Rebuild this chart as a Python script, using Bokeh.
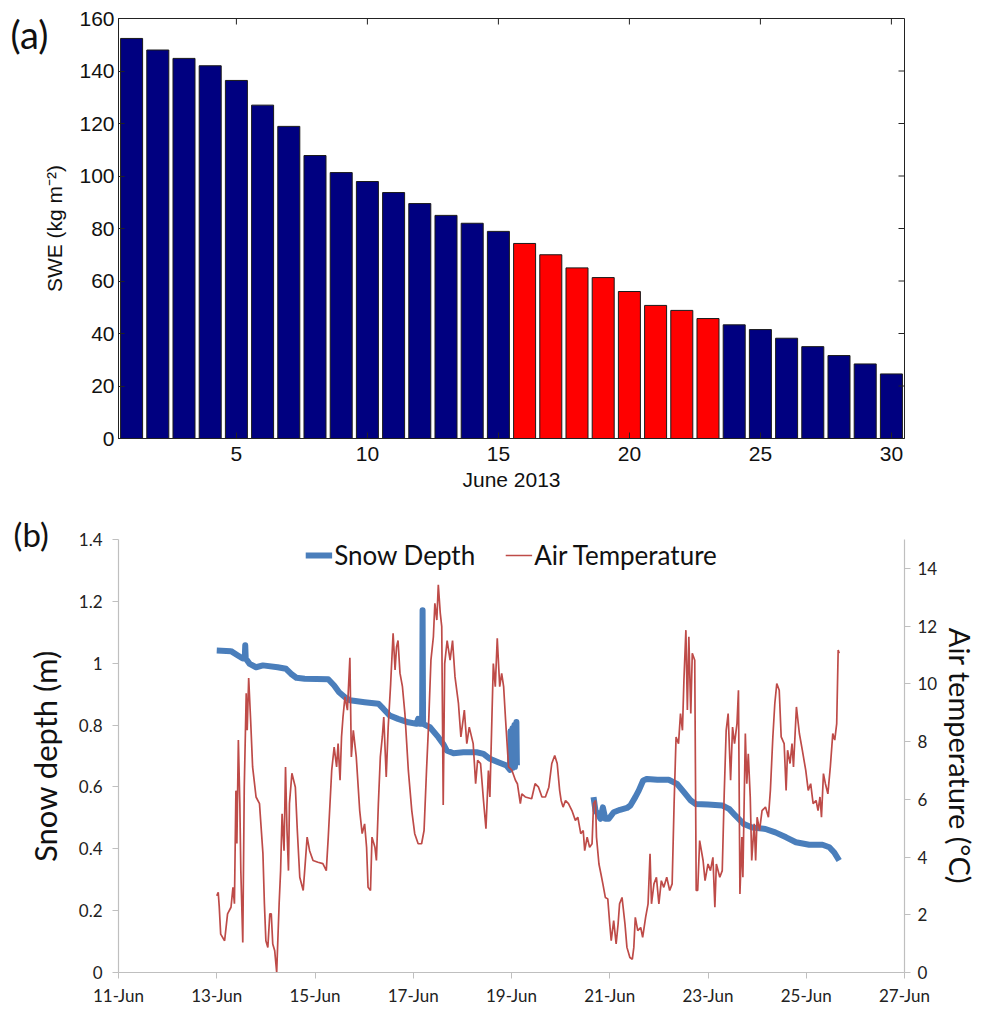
import math
from bokeh.plotting import figure
from bokeh.models import (ColumnDataSource, Range1d, LinearAxis, FixedTicker, Label,
                          Legend, LegendItem)
from bokeh.layouts import column
from bokeh.embed import file_html
from bokeh.resources import INLINE

# ---------------- data: panel (a) ----------------
june_days = list(range(1, 31))
swe_values = [152.4, 148.0, 144.8, 142.0, 136.4, 127.0, 118.9, 107.8, 101.3, 97.9,
              93.7, 89.5, 85.0, 82.0, 78.9, 74.3, 70.0, 65.0, 61.3, 56.0,
              50.7, 48.8, 45.7, 43.3, 41.5, 38.2, 35.0, 31.6, 28.4, 24.6]
highlight_days = [16, 17, 18, 19, 20, 21, 22, 23]
swe_xticks = [5, 10, 15, 20, 25, 30]
swe_yticks = [0, 20, 40, 60, 80, 100, 120, 140, 160]

# ---------------- data: panel (b) ----------------
temp_day = [13.00, 13.03, 13.05, 13.08, 13.16, 13.22, 13.29, 13.33, 13.36, 13.39, 13.41, 13.44, 13.47,
            13.49, 13.53, 13.56, 13.60, 13.62, 13.65, 13.69, 13.73, 13.80, 13.87, 13.94, 13.97, 14.00,
            14.04, 14.08, 14.11, 14.14, 14.18, 14.22, 14.27, 14.30, 14.33, 14.37, 14.40, 14.43, 14.46,
            14.48, 14.53, 14.60, 14.64, 14.69, 14.76, 14.79, 14.84, 14.89, 14.96, 15.06, 15.16, 15.23,
            15.27, 15.34, 15.39, 15.44, 15.47, 15.51, 15.54, 15.57, 15.61, 15.66, 15.71, 15.74, 15.78,
            15.84, 15.91, 15.96, 16.01, 16.05, 16.08, 16.13, 16.16, 16.22, 16.25, 16.29, 16.33, 16.37,
            16.40, 16.45, 16.49, 16.54, 16.59, 16.63, 16.66, 16.69, 16.73, 16.78, 16.83, 16.90, 16.97,
            17.03, 17.10, 17.17, 17.22, 17.27, 17.31, 17.36, 17.41, 17.44, 17.48, 17.51, 17.55, 17.58,
            17.61, 17.64, 17.69, 17.75, 17.80, 17.85, 17.92, 17.97, 18.04, 18.09, 18.14, 18.22, 18.27,
            18.31, 18.37, 18.43, 18.48, 18.53, 18.56, 18.60, 18.63, 18.67, 18.71, 18.76, 18.80, 18.84,
            18.88, 18.94, 19.01, 19.08, 19.12, 19.18, 19.21, 19.28, 19.41, 19.48, 19.55, 19.62, 19.69,
            19.76, 19.82, 19.88, 19.93, 19.98, 20.01, 20.05, 20.10, 20.16, 20.23, 20.30, 20.35, 20.41,
            20.46, 20.49, 20.54, 20.59, 20.64, 20.67, 20.71, 20.73, 20.78, 20.82, 20.86, 20.91, 20.96,
            21.00, 21.03, 21.08, 21.13, 21.17, 21.20, 21.25, 21.31, 21.35, 21.41, 21.46, 21.49, 21.52,
            21.57, 21.63, 21.67, 21.73, 21.78, 21.82, 21.85, 21.90, 21.95, 22.00, 22.05, 22.10, 22.16,
            22.22, 22.27, 22.31, 22.35, 22.40, 22.44, 22.48, 22.51, 22.55, 22.58, 22.61, 22.65, 22.68,
            22.73, 22.76, 22.79, 22.83, 22.90, 22.94, 23.00, 23.05, 23.10, 23.14, 23.17, 23.24, 23.29,
            23.33, 23.37, 23.41, 23.46, 23.50, 23.54, 23.59, 23.62, 23.65, 23.69, 23.71, 23.76, 23.79,
            23.82, 23.86, 23.89, 23.94, 23.97, 24.00, 24.05, 24.10, 24.17, 24.23, 24.27, 24.32, 24.36,
            24.40, 24.45, 24.49, 24.55, 24.59, 24.62, 24.67, 24.71, 24.74, 24.80, 24.86, 24.92, 24.99,
            25.04, 25.09, 25.14, 25.20, 25.24, 25.28, 25.31, 25.35, 25.39, 25.44, 25.49, 25.54, 25.58,
            25.62, 25.65, 25.67]
temp_val = [2.66, 2.78, 2.30, 1.33, 1.10, 2.03, 2.26, 2.95, 2.38, 6.30, 4.47, 8.05, 5.85,
            3.53, 1.04, 6.42, 9.67, 8.39, 10.20, 8.74, 7.12, 6.08, 5.85, 4.12, 2.38, 1.10,
            0.87, 2.03, 2.03, 0.99, 0.75, 0.00, 2.38, 3.53, 5.50, 4.22, 7.12, 4.92, 3.53,
            5.85, 6.90, 6.42, 4.92, 3.30, 2.84, 3.53, 4.69, 4.22, 3.88, 3.82, 3.77, 3.53,
            4.69, 7.00, 7.81, 7.12, 7.93, 6.66, 8.16, 8.85, 9.55, 9.09, 10.90, 7.47, 8.39,
            7.47, 5.61, 4.81, 5.15, 4.34, 2.95, 2.84, 4.69, 4.34, 3.88, 5.85, 7.47, 8.16,
            8.85, 6.77, 8.50, 10.00, 11.75, 10.48, 11.28, 11.50, 10.37, 9.90, 8.97, 7.00, 5.61,
            4.81, 4.46, 4.46, 4.92, 7.00, 8.50, 10.82, 11.63, 12.79, 12.21, 13.43, 12.45, 11.98,
            5.80, 10.70, 11.50, 10.82, 11.50, 10.24, 9.32, 8.16, 9.09, 7.93, 8.50, 7.93, 6.54,
            7.35, 7.24, 5.96, 4.98, 7.00, 6.08, 8.74, 10.70, 9.90, 11.58, 9.90, 10.36, 9.90,
            8.74, 7.12, 7.00, 6.66, 6.54, 5.85, 6.19, 6.08, 6.02, 6.54, 6.42, 6.08, 6.08,
            6.42, 7.24, 7.52, 7.24, 6.31, 5.96, 5.73, 5.96, 5.85, 5.61, 5.27, 5.38, 4.81,
            4.92, 4.22, 4.69, 4.34, 4.46, 5.85, 5.96, 4.69, 3.76, 3.42, 3.07, 2.60, 2.55,
            1.68, 1.10, 1.80, 0.99, 1.68, 2.38, 2.60, 1.68, 0.87, 0.52, 0.46, 0.87, 1.91,
            1.45, 1.56, 1.22, 1.91, 2.38, 4.11, 2.38, 3.07, 3.30, 2.38, 3.18, 2.95, 3.30,
            2.84, 3.07, 5.85, 8.16, 7.93, 8.97, 8.39, 10.13, 11.86, 9.09, 11.63, 8.97, 11.06,
            10.82, 2.84, 2.84, 4.57, 3.88, 3.18, 3.76, 3.53, 3.99, 2.26, 3.76, 3.30, 3.53,
            6.19, 8.39, 8.97, 6.66, 8.50, 7.93, 8.62, 9.78, 2.72, 4.69, 3.30, 8.28, 6.54,
            7.58, 6.08, 3.88, 5.15, 3.88, 5.38, 4.92, 5.61, 5.73, 5.38, 6.31, 8.16, 9.32,
            10.01, 9.78, 8.16, 7.93, 6.31, 7.70, 7.24, 7.93, 7.12, 9.20, 8.28, 7.70, 7.00,
            6.31, 6.54, 5.85, 5.96, 5.61, 6.08, 5.38, 6.89, 6.54, 6.19, 7.12, 8.28, 8.05,
            8.62, 11.17, 11.06]

NA = float("nan")
snow_day = [13.00, 13.29, 13.43, 13.53, 13.57, 13.58, 13.59, 13.67, 13.80, 13.94, 14.24, 14.41,
            14.51, 14.62, 14.79, 15.27, 15.39, 15.49, 15.61, 15.71, 16.01, 16.29, 16.39, 16.52,
            16.69, 16.90, 17.07, 17.10, 17.13, 17.18, 17.19, 17.20, 17.34, 17.51, 17.61, 17.68,
            17.82, 18.02, 18.29, 18.43, 18.56, 18.73, 18.90, 18.97, 18.98, 18.99, 19.02, 19.03,
            19.06, 19.07, 19.10, 19.11, NA,
            20.67, 20.71, 20.76, 20.81, 20.86, 20.91, 20.98, 21.08, 21.21, 21.35, 21.42, 21.52,
            21.59, 21.68, 21.76, 21.97, 22.20, 22.37, 22.51, 22.65, 22.75, 23.00, 23.29, 23.43,
            23.56, 23.73, 23.90, 24.17, 24.37, 24.59, 24.79, 25.06, 25.33, 25.47, 25.57, 25.67]
snow_depth = [1.041, 1.039, 1.025, 1.015, 1.015, 1.058, 1.015, 0.998, 0.987, 0.993, 0.987, 0.982,
              0.966, 0.953, 0.950, 0.948, 0.928, 0.906, 0.890, 0.880, 0.874, 0.869, 0.853, 0.831,
              0.820, 0.809, 0.804, 0.820, 0.804, 0.804, 1.171, 0.804, 0.793, 0.761, 0.739, 0.718,
              0.709, 0.712, 0.712, 0.707, 0.691, 0.680, 0.669, 0.655, 0.780, 0.660, 0.790, 0.662,
              0.800, 0.665, 0.810, 0.670, NA,
              0.567, 0.523, 0.513, 0.497, 0.534, 0.497, 0.497, 0.518, 0.526, 0.532, 0.540, 0.567,
              0.588, 0.621, 0.626, 0.623, 0.623, 0.610, 0.583, 0.556, 0.545, 0.543, 0.540, 0.529,
              0.507, 0.480, 0.469, 0.464, 0.453, 0.437, 0.421, 0.413, 0.413, 0.405, 0.388, 0.362]

date_ticks = [11, 13, 15, 17, 19, 21, 23, 25, 27]
date_labels = ["11-Jun", "13-Jun", "15-Jun", "17-Jun", "19-Jun", "21-Jun", "23-Jun", "25-Jun", "27-Jun"]
depth_ticks = [0, 0.2, 0.4, 0.6, 0.8, 1.0, 1.2, 1.4]
depth_labels = ["0", "0.2", "0.4", "0.6", "0.8", "1", "1.2", "1.4"]
temp_ticks = [0, 2, 4, 6, 8, 10, 12, 14]

ARIAL = "Liberation Sans"
CAL = "Lato"
W = 982
LEFT, RIGHT = 118, 78
X_LO, X_HI, Y_HI = 0.5, 30.5, 160

# ---------------- panel (a) ----------------
colors = ["#ff0000" if d in highlight_days else "#000080" for d in june_days]
src_a = ColumnDataSource(dict(day=june_days, swe=swe_values, color=colors))

p1 = figure(width=W, height=498, x_range=Range1d(X_LO, X_HI), y_range=Range1d(0, Y_HI),
            output_backend="svg", toolbar_location=None,
            min_border_left=LEFT, min_border_right=RIGHT, min_border_top=18, min_border_bottom=60,
            x_axis_location=None, y_axis_location=None)
p1.vbar(x="day", top="swe", width=0.84, bottom=0, source=src_a,
        fill_color="color", line_color="#1a1a1a", line_width=1)
p1.xgrid.visible = False
p1.ygrid.visible = False
p1.outline_line_color = "#222222"
p1.outline_line_width = 1

# mirrored inward tick marks on the top and right edges of the box (MATLAB style)
p1.ray(x=swe_xticks, y=[Y_HI] * len(swe_xticks), length=6, length_units="screen",
       angle=-math.pi / 2, line_color="#222222", line_width=1)
p1.ray(x=[X_HI] * len(swe_yticks), y=swe_yticks, length=6, length_units="screen",
       angle=math.pi, line_color="#222222", line_width=1)

def style_a(ax):
    ax.axis_line_color = "#222222"
    ax.major_tick_in = 6
    ax.major_tick_out = 0
    ax.minor_tick_line_color = None
    ax.major_tick_line_color = "#222222"
    ax.major_label_text_font = ARIAL
    ax.major_label_text_font_size = "21px"
    ax.major_label_text_color = "#111111"
    ax.axis_label_text_font = ARIAL
    ax.axis_label_text_font_size = "21px"
    ax.axis_label_text_font_style = "normal"
    ax.axis_label_text_color = "#111111"

xa = LinearAxis(ticker=FixedTicker(ticks=swe_xticks), axis_label="June 2013")
style_a(xa)
xa.major_label_standoff = 8
xa.axis_label_standoff = 4
p1.add_layout(xa, "below")
ya = LinearAxis(ticker=FixedTicker(ticks=swe_yticks), axis_label="SWE (kg m\u207b\u00b2)")
style_a(ya)
ya.major_label_standoff = 4
ya.axis_label_standoff = 10
p1.add_layout(ya, "left")

# panel tag "(a)" -- placed in a side panel so it is not clipped by the frame
p1.add_layout(Label(x=-3.62, y=154.1, x_units="data", y_units="data", text="(a)",
                    text_font=CAL, text_font_size="38px", text_baseline="middle",
                    text_align="left", text_color="#111111"), "right")

# ---------------- panel (b) ----------------
p2 = figure(width=W, height=511, x_range=Range1d(11, 27), y_range=Range1d(0, 1.4),
            output_backend="svg", toolbar_location=None,
            min_border_left=LEFT, min_border_right=RIGHT, min_border_top=41, min_border_bottom=37,
            x_axis_location=None, y_axis_location=None)
p2.extra_y_ranges = {"temp": Range1d(0, 15)}
p2.xgrid.visible = False
p2.ygrid.visible = False
p2.outline_line_color = None

r_snow = p2.line(snow_day, snow_depth, line_color="#4a7ebb", line_width=6, line_join="round")
r_temp = p2.line(temp_day, temp_val, line_color="#be4b48", line_width=1.7, y_range_name="temp")

def style_b(ax):
    ax.axis_line_color = "#bfbfbf"
    ax.axis_line_width = 1.2
    ax.major_tick_in = 0
    ax.major_tick_out = 6
    ax.major_tick_line_color = "#bfbfbf"
    ax.minor_tick_line_color = None
    ax.major_label_text_font = CAL
    ax.major_label_text_font_size = "17px"
    ax.major_label_text_color = "#222222"
    ax.axis_label_text_font = CAL
    ax.axis_label_text_font_size = "30px"
    ax.axis_label_text_font_style = "normal"
    ax.axis_label_text_color = "#111111"

xb = LinearAxis(ticker=FixedTicker(ticks=date_ticks),
                major_label_overrides=dict(zip(date_ticks, date_labels)))
style_b(xb)
xb.major_label_standoff = 6
p2.add_layout(xb, "below")
yb = LinearAxis(ticker=FixedTicker(ticks=depth_ticks), axis_label="Snow depth (m)",
                major_label_overrides=dict(zip(depth_ticks, depth_labels)))
style_b(yb)
yb.axis_label_text_font_size = "31px"
yb.major_label_standoff = 10
yb.axis_label_standoff = 12
p2.add_layout(yb, "left")
yt = LinearAxis(ticker=FixedTicker(ticks=temp_ticks), y_range_name="temp",
                axis_label="Air temperature (\u00b0C)")
style_b(yt)
yt.axis_label_text_font_size = "29px"
yt.major_label_standoff = 7
yt.axis_label_standoff = 3
p2.add_layout(yt, "right")

legend = Legend(items=[LegendItem(label="Snow Depth", renderers=[r_snow]),
                       LegendItem(label="Air Temperature", renderers=[r_temp])],
                location="top_center", orientation="horizontal",
                border_line_color=None, background_fill_alpha=0,
                label_text_font=CAL, label_text_font_size="26px", label_text_color="#111111",
                glyph_width=27, label_standoff=2, spacing=30, margin=0, padding=0)
p2.add_layout(legend)

# panel tag "(b)" -- placed in a side panel so it is not clipped by the frame
p2.add_layout(Label(x=8.865, y=1.419, x_units="data", y_units="data", text="(b)",
                    text_font=CAL, text_font_size="33px", text_baseline="middle",
                    text_align="left", text_color="#111111"), "above")

layout = column(p1, p2, spacing=0)
open("out.html", "w").write(file_html(layout, INLINE))
